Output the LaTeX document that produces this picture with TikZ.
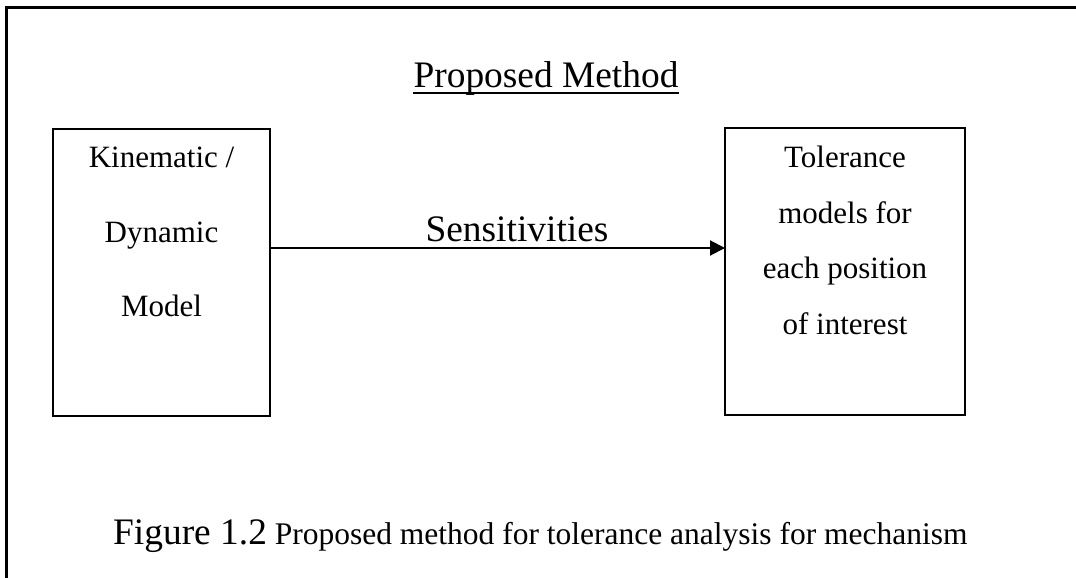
\documentclass[tikz,border=0pt]{standalone}
\usepackage{fontspec}
\setmainfont{Liberation Serif}
\usetikzlibrary{arrows.meta,calc}
\begin{document}
\begin{tikzpicture}[x=1pt,y=-1pt,
  bigtxt/.style={font=\fontsize{37.4}{44}\selectfont, inner sep=0pt, anchor=base},
  boxtxt/.style={font=\fontsize{31}{37}\selectfont, inner sep=0pt, anchor=base},
  blockbox/.style={draw, line width=2pt, inner sep=0pt, outer sep=0pt},
  conn/.style={line width=2pt, -{Triangle[length=15pt,width=15pt]}}]
\useasboundingbox (0,0) rectangle (1076,578);
% outer frame (extends past the right and bottom edges)
\draw[line width=2.5pt] (6.5,600) -- (6.5,7.5) -- (1100,7.5);
% title
\node[bigtxt] (title) at (546,88) {Proposed Method};
\draw[line width=1.8pt] ([yshift=-5pt]title.base west) -- ([yshift=-5pt]title.base east);
% boxes
\node[blockbox, minimum width=217pt, minimum height=287pt] (L) at (161.5,272.5) {};
\node[blockbox, minimum width=240pt, minimum height=287pt] (R) at (845,271.5) {};
% left box text
\node[boxtxt] (l1) at (161.5,167) {Kinematic /};
\node[boxtxt] (l2) at (161.5,242) {Dynamic};
\node[boxtxt] (l3) at (161.5,316) {Model};
% right box text
\node[boxtxt] (r1) at (845,167) {Tolerance};
\node[boxtxt] (r2) at (845,223) {models for};
\node[boxtxt] (r3) at (845,278.5) {each position};
\node[boxtxt] (r4) at (845,334) {of interest};
% arrow
\coordinate (ay) at (0,248);
\draw[conn] (L.east |- ay) -- (R.west |- ay);
\node[bigtxt] (sens) at (517,241) {Sensitivities};
% caption
\node[inner sep=0pt, anchor=base west] (cap) at (113,544)
  {{\fontsize{37.4}{44}\selectfont Figure 1.2}{\fontsize{31.5}{38}\selectfont\ Proposed method for tolerance analysis for mechanism}};
\end{tikzpicture}
\end{document}
